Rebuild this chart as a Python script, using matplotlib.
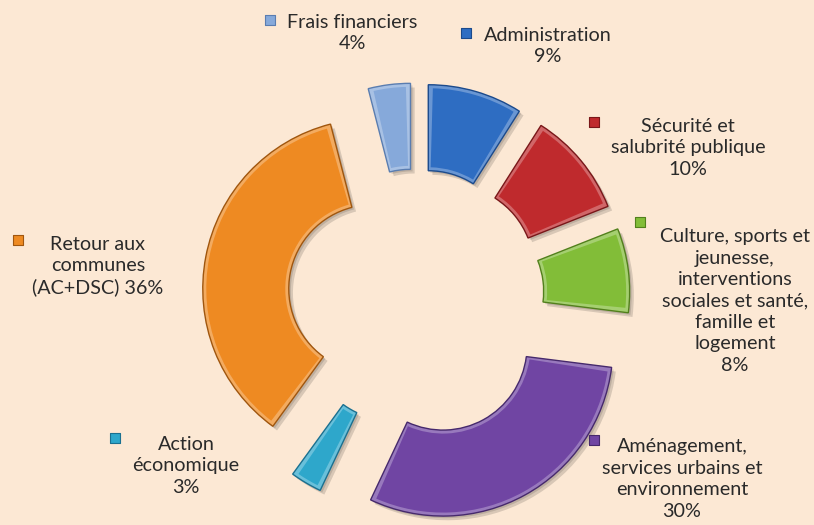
import numpy as np
import matplotlib
matplotlib.use("Agg")
import matplotlib.pyplot as plt
from matplotlib import patheffects as pe
from matplotlib.patches import Wedge
from matplotlib.colors import to_rgb

# ---- data (pie order: clockwise from 12 o'clock) ----
names = ["Administration", "Sécurité et\nsalubrité publique",
         "Culture, sports et\njeunesse,\ninterventions\nsociales et santé,\nfamille et\nlogement",
         "Aménagement,\nservices urbains et\nenvironnement",
         "Action\néconomique", "Retour aux\ncommunes\n(AC+DSC)", "Frais financiers"]
values = [9, 10, 8, 30, 3, 36, 4]
value_sep = ["\n", "\n", "\n", "\n", "\n", " ", "\n"]
colors = ["#2E6DC2", "#BF2A2D", "#82BD38", "#7045A3", "#2EA7CB", "#EE8A22", "#86A9DA"]
edges = ["#1B4A8C", "#7A1719", "#52801C", "#46296C", "#1A7090", "#A0560E", "#5A7DB0"]

# ---- layout (pixel space, y measured from top) ----
W, H = 814, 525
BG = "#FCE8D4"
center_px = (416, 297)
R, WIDTH = 170, 86
explode = [44, 44, 44, 56, 46, 44, 44]
label_pos = [(548, 46), (688, 148), (735, 301), (682, 479), (186, 466), (98, 266), (352, 33)]
marker_pos = [(466, 33), (594, 122), (640, 222), (594, 440), (115, 438), (18, 240), (270, 20)]
BEVEL = 3.5


def lighten(c, f):
    r, g, b = to_rgb(c)
    return (r + (1 - r) * f, g + (1 - g) * f, b + (1 - b) * f)


fig = plt.figure(figsize=(W / 100, H / 100), dpi=100, facecolor=BG)
ax = fig.add_axes([0, 0, 1, 1])
ax.set_facecolor(BG)

wedges, _ = ax.pie(values, colors=[lighten(c, 0.28) for c in colors],
                   startangle=90, counterclock=False, radius=R,
                   center=(center_px[0], H - center_px[1]), explode=explode, frame=True,
                   wedgeprops=dict(width=WIDTH, linewidth=1.0))
for w, ec in zip(wedges, edges):
    w.set_edgecolor(ec)
    w.set_path_effects([pe.SimplePatchShadow(offset=(3, -3), shadow_rgbFace="#000000", alpha=0.14),
                        pe.SimplePatchShadow(offset=(1.5, -1.5), shadow_rgbFace="#000000", alpha=0.12),
                        pe.Normal()])

# inner face (inset from each wedge) gives a bevelled look
for w, c in zip(wedges, colors):
    rmid = w.r - w.width / 2
    dth = np.degrees(BEVEL / rmid)
    ax.add_patch(Wedge(w.center, w.r - BEVEL, w.theta1 + dth, w.theta2 - dth,
                       width=w.width - 2 * BEVEL, facecolor=c, edgecolor="none"))

ax.set_xlim(0, W)
ax.set_ylim(0, H)
ax.set_aspect("equal")
ax.axis("off")

for name, v, sep, (lx, ly), (mx, my), c, ec in zip(names, values, value_sep, label_pos,
                                                   marker_pos, colors, edges):
    ax.text(lx, H - ly, f"{name}{sep}{v}%", ha="center", va="center",
            fontsize=14.2, family=["Lato", "DejaVu Sans"], color="#2a2a2a",
            linespacing=1.31)
    ax.scatter([mx], [H - my], marker="s", s=50, color=c, edgecolors=ec, linewidths=0.8)

fig.savefig("out.png", dpi=100, facecolor=BG)
